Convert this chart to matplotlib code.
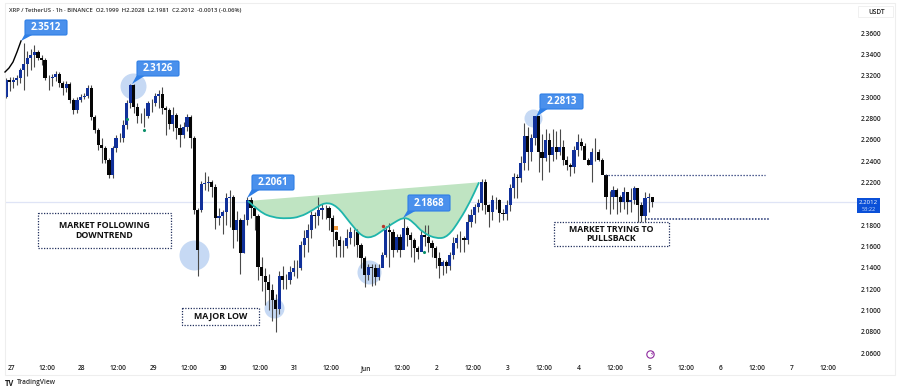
import numpy as np
import matplotlib
matplotlib.use('Agg')
import matplotlib.pyplot as plt
from matplotlib.patches import Rectangle, FancyBboxPatch, PathPatch
from matplotlib.path import Path
from matplotlib.transforms import Affine2D

plt.rcParams['font.family'] = ['Open Sans', 'DejaVu Sans']

# Candles
closes = [2.316, 2.314, 2.316, 2.318, 2.325, 2.331, 2.337, 2.339, 2.342, 2.337,
          2.335, 2.318, 2.318, 2.319, 2.322, 2.313, 2.308, 2.312, 2.297, 2.288,
          2.297, 2.300, 2.301, 2.308, 2.281, 2.269, 2.255, 2.252, 2.241, 2.227,
          2.252, 2.262, 2.262, 2.274, 2.294, 2.311, 2.291, 2.282, 2.282, 2.282,
          2.294, 2.294, 2.301, 2.303, 2.290, 2.288, 2.275, 2.283, 2.271, 2.264,
          2.272, 2.281, 2.262, 2.194, 2.157, 2.218, 2.219, 2.220, 2.216, 2.187,
          2.188, 2.192, 2.205, 2.206, 2.175, 2.185, 2.154, 2.185, 2.203, 2.196,
          2.188, 2.141, 2.132, 2.127, 2.119, 2.110, 2.101, 2.132, 2.128, 2.128,
          2.136, 2.140, 2.140, 2.161, 2.168, 2.175, 2.189, 2.188, 2.194, 2.196,
          2.196, 2.187, 2.173, 2.166, 2.160, 2.160, 2.168, 2.173, 2.173, 2.161,
          2.149, 2.133, 2.141, 2.140, 2.131, 2.140, 2.152, 2.175, 2.173, 2.157,
          2.169, 2.157, 2.177, 2.171, 2.166, 2.158, 2.155, 2.171, 2.169, 2.163,
          2.158, 2.149, 2.142, 2.145, 2.142, 2.152, 2.163, 2.168, 2.168, 2.166,
          2.183, 2.189, 2.197, 2.201, 2.220, 2.199, 2.192, 2.203, 2.203, 2.191,
          2.190, 2.199, 2.215, 2.225, 2.224, 2.238, 2.263, 2.248, 2.262, 2.282,
          2.248, 2.243, 2.260, 2.246, 2.253, 2.248, 2.253, 2.241, 2.236, 2.234,
          2.250, 2.258, 2.254, 2.241, 2.236, 2.248, 2.248, 2.241, 2.227, 2.206,
          2.206, 2.213, 2.206, 2.202, 2.211, 2.202, 2.203, 2.215, 2.199, 2.188,
          2.205, 2.206, 2.2012]
highs = [2.318, 2.319, 2.319, 2.321, 2.327, 2.351, 2.343, 2.345, 2.349, 2.344,
         2.339, 2.337, 2.321, 2.322, 2.324, 2.323, 2.315, 2.315, 2.314, 2.299,
         2.300, 2.303, 2.304, 2.311, 2.311, 2.283, 2.271, 2.262, 2.254, 2.243,
         2.254, 2.264, 2.266, 2.278, 2.297, 2.3126, 2.312, 2.294, 2.285, 2.290,
         2.296, 2.298, 2.304, 2.307, 2.309, 2.292, 2.290, 2.291, 2.285, 2.275,
         2.277, 2.284, 2.283, 2.263, 2.196, 2.221, 2.230, 2.226, 2.222, 2.218,
         2.196, 2.194, 2.210, 2.213, 2.208, 2.193, 2.187, 2.190, 2.2061, 2.206,
         2.198, 2.190, 2.150, 2.140, 2.134, 2.125, 2.115, 2.137, 2.142, 2.134,
         2.142, 2.147, 2.147, 2.165, 2.175, 2.181, 2.193, 2.192, 2.206, 2.200,
         2.199, 2.198, 2.189, 2.174, 2.170, 2.166, 2.176, 2.178, 2.176, 2.176,
         2.163, 2.151, 2.143, 2.143, 2.143, 2.143, 2.155, 2.179, 2.182, 2.176,
         2.172, 2.172, 2.1868, 2.179, 2.173, 2.168, 2.160, 2.175, 2.180, 2.180,
         2.166, 2.160, 2.155, 2.147, 2.147, 2.155, 2.169, 2.172, 2.174, 2.170,
         2.190, 2.195, 2.200, 2.204, 2.223, 2.223, 2.200, 2.208, 2.206, 2.204,
         2.195, 2.203, 2.218, 2.229, 2.228, 2.245, 2.276, 2.272, 2.265, 2.2813,
         2.270, 2.265, 2.270, 2.266, 2.270, 2.268, 2.270, 2.260, 2.245, 2.238,
         2.254, 2.265, 2.262, 2.257, 2.243, 2.252, 2.262, 2.251, 2.243, 2.228,
         2.212, 2.217, 2.215, 2.208, 2.216, 2.209, 2.215, 2.217, 2.207, 2.202,
         2.211, 2.210, 2.205]
lows = [2.299, 2.306, 2.308, 2.311, 2.313, 2.307, 2.320, 2.325, 2.328, 2.335,
        2.330, 2.316, 2.307, 2.310, 2.315, 2.309, 2.302, 2.305, 2.294, 2.284,
        2.285, 2.295, 2.298, 2.299, 2.278, 2.266, 2.250, 2.238, 2.238, 2.224,
        2.224, 2.248, 2.258, 2.258, 2.270, 2.290, 2.285, 2.276, 2.276, 2.272,
        2.280, 2.286, 2.292, 2.290, 2.284, 2.264, 2.270, 2.268, 2.261, 2.253,
        2.262, 2.268, 2.252, 2.190, 2.132, 2.192, 2.213, 2.212, 2.206, 2.176,
        2.180, 2.172, 2.180, 2.178, 2.158, 2.165, 2.134, 2.154, 2.180, 2.187,
        2.175, 2.128, 2.118, 2.105, 2.100, 2.090, 2.080, 2.097, 2.120, 2.120,
        2.125, 2.132, 2.130, 2.138, 2.150, 2.155, 2.168, 2.177, 2.180, 2.186,
        2.186, 2.175, 2.160, 2.150, 2.150, 2.150, 2.158, 2.162, 2.160, 2.150,
        2.140, 2.122, 2.128, 2.123, 2.124, 2.128, 2.148, 2.150, 2.141, 2.150,
        2.155, 2.150, 2.165, 2.160, 2.150, 2.145, 2.148, 2.166, 2.160, 2.155,
        2.150, 2.140, 2.130, 2.133, 2.135, 2.138, 2.148, 2.158, 2.155, 2.155,
        2.162, 2.178, 2.182, 2.192, 2.194, 2.190, 2.178, 2.185, 2.195, 2.183,
        2.185, 2.185, 2.193, 2.205, 2.205, 2.220, 2.232, 2.232, 2.240, 2.255,
        2.230, 2.222, 2.240, 2.230, 2.240, 2.242, 2.246, 2.236, 2.232, 2.226,
        2.229, 2.245, 2.250, 2.250, 2.236, 2.220, 2.240, 2.240, 2.235, 2.195,
        2.190, 2.195, 2.190, 2.192, 2.195, 2.190, 2.192, 2.200, 2.178, 2.182,
        2.183, 2.192, 2.197]
first_open = 2.300
gap_open_55 = 2.194

# Cup pattern curve, days since the 27th / price
cup_days = [3.338, 3.507, 3.690, 3.887, 4.070, 4.254, 4.423, 4.592, 4.775, 4.944, 5.085,
            5.239, 5.408, 5.549, 5.662, 5.803, 6.000, 6.155, 6.324, 6.465, 6.592]
cup_price = [2.2025, 2.192, 2.187, 2.186, 2.1875, 2.194, 2.2016, 2.198, 2.182, 2.169, 2.168,
             2.175, 2.183, 2.1875, 2.183, 2.1725, 2.167, 2.169, 2.185, 2.2016, 2.220]

price_ticks = [2.06, 2.08, 2.10, 2.12, 2.14, 2.16, 2.18, 2.22, 2.24, 2.26, 2.28, 2.30, 2.32, 2.34, 2.36]
time_ticks = [0, .5, 1, 1.5, 2, 2.5, 3, 3.5, 4, 4.5, 5, 5.5, 6, 6.5, 7, 7.5, 8, 8.5, 9, 9.5, 10, 10.5, 11, 11.5]
time_labels = ['27', '12:00', '28', '12:00', '29', '12:00', '30', '12:00', '31', '12:00', 'Jun', '12:00',
               '2', '12:00', '3', '12:00', '4', '12:00', '5', '12:00', '6', '12:00', '7', '12:00']
last_price = 2.2012

W, H = 900, 391
fig = plt.figure(figsize=(W/100, H/100), dpi=100)
ax = fig.add_axes([5/W, 1-358/H, 852/W, 350/H])
ax.set_xlim((5-11)/71, (857-11)/71)
ax.set_ylim(2.36-325*.0009375, 2.36+25*.0009375)
for s in ax.spines.values():
    s.set_visible(False)
ax.patch.set_alpha(0)

# pixel coords (top left origin) for annotations
px = Affine2D().scale(1/W, -1/H).translate(0, 1) + fig.transFigure

closes = np.array(closes)
opens = np.r_[first_open, closes[:-1]]
opens[55] = gap_open_55
t = (6-11)/71 + 0.05*np.arange(len(closes))
up = closes >= opens

# highlight circles under the candles
for cx, cy, r in [(133, 86, 13), (194, 255, 15), (274, 308, 10), (369, 272, 12), (533, 118, 9)]:
    ax.scatter([(cx-11)/71], [2.36-(cy-33)*.0009375], s=(2*r*.72)**2, color='#c6d9f4', lw=0, zorder=1)

ax.axhline(last_price, color='#dfe4f6', lw=0.9, zorder=1)

# smooth the curve through the read points (midpoints + quadratic beziers)
pts = np.column_stack([cup_days, cup_price])
verts = [pts[0]]
codes = [Path.MOVETO]
for a, b in zip(pts[1:-1], pts[2:]):
    verts += [a, (a+b)/2]
    codes += [Path.CURVE3, Path.CURVE3]
verts.append(pts[-1])
codes.append(Path.LINETO)
ax.add_patch(PathPatch(Path(verts + [pts[0]], codes + [Path.LINETO]), fc='#bfe4c2', ec='none', zorder=1.5))
ax.add_patch(PathPatch(Path(verts, codes), fc='none', ec='#1fb5ab', lw=1.3, zorder=4))

ax.vlines(t, lows, highs, color='#4a4a4a', lw=0.8, zorder=2)
ax.bar(t[up], (closes-opens)[up], bottom=opens[up], width=0.044, color='#10309a', lw=0, zorder=3)
ax.bar(t[~up], (opens-closes)[~up], bottom=closes[~up], width=0.044, color='#050505', lw=0, zorder=3)

ax.yaxis.tick_right()
ax.set_yticks(price_ticks)
ax.set_yticklabels(['%.4f' % p for p in price_ticks], fontsize=4.8, color='#222222', fontweight='semibold')
ax.set_xticks(time_ticks)
ax.set_xticklabels(time_labels, fontsize=4.8, color='#222222', fontweight='semibold')
ax.tick_params(length=0, axis='y', pad=3)
ax.tick_params(length=0, axis='x', pad=5)

# dotted levels
ax.plot([(605-11)/71, (765-11)/71], [2.227, 2.227], color='#1c2f70', lw=0.9, ls=(0, (1, 1.4)), zorder=3)
ax.plot([(645-11)/71, (769-11)/71], [2.1856, 2.1856], color='#1c2f70', lw=1.1, ls=(0, (1, 1)), zorder=3)

# frame
fig.add_artist(Rectangle((5, 3), 890, 372, transform=px, fill=False, ec='#eeeeee', lw=0.8))

# small marks
ax.scatter([(127-11)/71, (144-11)/71, (424-11)/71], [2.2794, 2.269, 2.155], s=5, color='#0c8f6a', lw=0, zorder=5)
ax.scatter([(383-11)/71], [2.179], s=6, color='#b5342a', lw=0, zorder=5)
ax.scatter([(336-11)/71], [2.177], s=6, marker='s', color='#f0973a', lw=0, zorder=5)

# black curve into first callout
fig.add_artist(plt.Line2D([5, 9, 13, 17, 21], [72, 68, 62, 52, 41], transform=px, color='black', lw=1.0))

# price callouts
callouts = [('2.3512', 25, 20, 67, 35, 21, 41), ('2.3126', 137, 61, 179, 76, 132, 84),
            ('2.2061', 252, 175, 294, 190, 247, 198), ('2.1868', 408, 195, 450, 211, 403, 218),
            ('2.2813', 540, 94, 583, 109, 536, 117)]
for lab, x0, y0, x1, y1, tx, ty in callouts:
    fig.add_artist(plt.Polygon([[tx, ty], [x0+1, y1-3], [x0+9, y1-1]], transform=px, color='#2f7fe6', lw=0))
    fig.add_artist(FancyBboxPatch((x0+1, y0+1), x1-x0-2, y1-y0-2, boxstyle='round,pad=1,rounding_size=1.5',
                                  transform=px, fc='#4a90ec', ec='#2f7fe6', lw=0.8))
    fig.text((x0+x1)/2, (y0+y1)/2, lab, transform=px, color='white', fontsize=7, fontweight='bold',
             ha='center', va='center')

# dotted note boxes
notes = [('MARKET FOLLOWING\nDOWNTREND', 38, 213, 171, 248), ('MAJOR LOW', 182, 308, 259, 325),
         ('MARKET TRYING TO\nPULLSBACK', 554, 222, 669, 246)]
for lab, x0, y0, x1, y1 in notes:
    fig.add_artist(Rectangle((x0, y0), x1-x0, y1-y0, transform=px, fill=True, fc='white', ec='#22305e', lw=0.9,
                             ls=(0, (1, 1.2)), zorder=6))
    fig.text((x0+x1)/2, (y0+y1)/2, lab, transform=px, color='#111111', fontsize=6.3, fontweight='bold',
             ha='center', va='center', linespacing=1.1, zorder=7)

# header and right panel
fig.text(9, 10, 'XRP / TetherUS · 1h · BINANCE  O2.1999  H2.2028  L2.1981  C2.2012  -0.0013 (-0.06%)',
         transform=px, fontsize=4.2, color='#333333', va='center', fontweight='semibold')
fig.add_artist(Rectangle((858, 6), 35, 11, transform=px, fill=False, ec='#f0f0f0', lw=0.7))
fig.text(868, 12, 'USDT', transform=px, fontsize=4.7, color='#222222', va='center', ha='left', fontweight='semibold')
fig.add_artist(Rectangle((857, 198), 23, 15, transform=px, color='#0b50d8', lw=0, zorder=6))
fig.text(868.5, 202, '%.4f' % last_price, transform=px, fontsize=4.4, color='white', va='center', ha='center', zorder=7)
fig.text(868.5, 209.5, '53:22', transform=px, fontsize=4.0, color='#cfe0ff', va='center', ha='center', zorder=7)

# event icon and logo
ax.scatter([9.0], [2.36-(354-33)*.0009375], s=28, fc='white', ec='#8e2a9e', lw=0.8, zorder=5, clip_on=False)
fig.text(652, 354, '⚡', transform=px, fontsize=4.5, color='#8e2a9e', ha='center', va='center', family='DejaVu Sans')
fig.text(5, 383, 'TV', transform=px, fontsize=5.5, color='#222222', va='center', fontweight='bold')
fig.text(17, 383, 'TradingView', transform=px, fontsize=4.8, color='#333333', va='center', fontweight='semibold')

fig.savefig('out.png', dpi=100)
